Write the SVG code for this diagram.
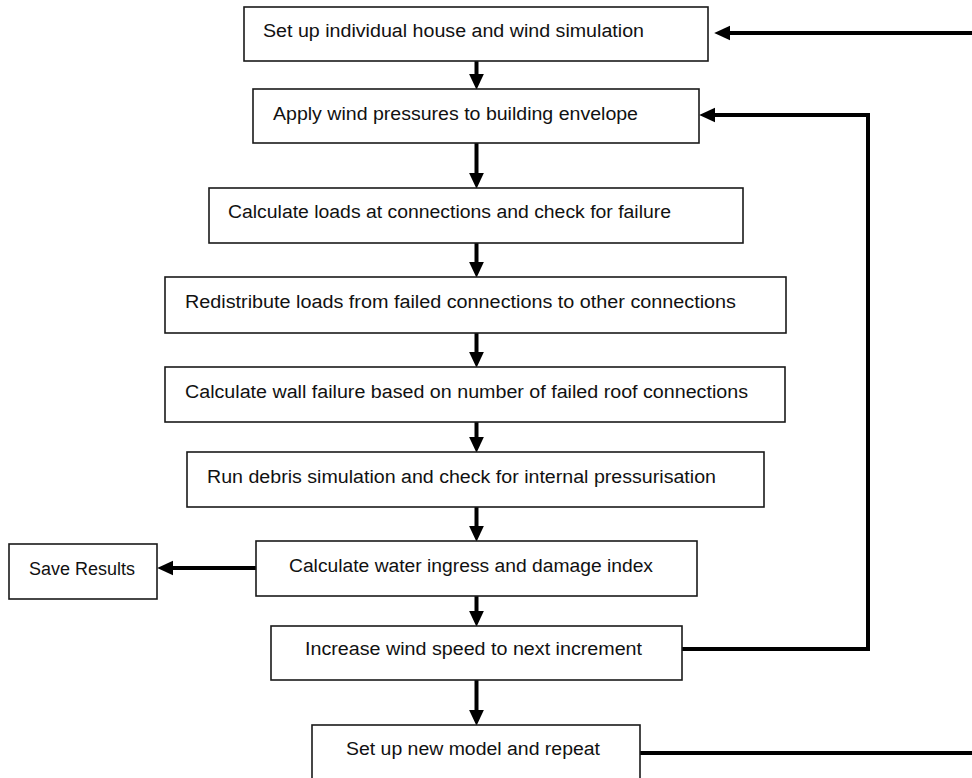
<svg xmlns="http://www.w3.org/2000/svg" width="972" height="778" viewBox="0 0 972 778">
  <style>
    .box { fill: #ffffff; stroke: #1a1a1a; stroke-width: 1.6; }
    .lbl { font-family: "Liberation Sans", Arial, sans-serif; font-size: 18px; fill: #111111; }
    .con { fill: none; stroke: #000000; stroke-width: 4; stroke-linejoin: miter; }
    .arr { marker-end: url(#head); }
  </style>
  <defs>
    <marker id="head" markerUnits="userSpaceOnUse" markerWidth="16" markerHeight="16" viewBox="0 0 15 14" refX="3" refY="7" orient="auto">
      <path d="M0,0 L15,7 L0,14 z" fill="#000000"/>
    </marker>
  </defs>
  <rect width="972" height="778" fill="#ffffff"/>

  <g id="connectors">
    <line class="con arr" x1="476.5" y1="61" x2="476.5" y2="77"/>
    <line class="con arr" x1="476.5" y1="143" x2="476.5" y2="176"/>
    <line class="con arr" x1="476.5" y1="243" x2="476.5" y2="265"/>
    <line class="con arr" x1="476.5" y1="333" x2="476.5" y2="355"/>
    <line class="con arr" x1="476.5" y1="422" x2="476.5" y2="440"/>
    <line class="con arr" x1="476.5" y1="507" x2="476.5" y2="529"/>
    <line class="con arr" x1="476.5" y1="596" x2="476.5" y2="614"/>
    <line class="con arr" x1="476.5" y1="680" x2="476.5" y2="713"/>
    <line class="con arr" x1="256" y1="568" x2="170" y2="568"/>
    <line class="con arr" x1="972" y1="33" x2="727" y2="33"/>
    <polyline class="con arr" points="682,649 868,649 868,115 712,115"/>
    <line class="con" x1="640" y1="753" x2="972" y2="753"/>
  </g>

  <g id="n1">
    <rect class="box" x="244" y="7" width="464" height="54"/>
    <text class="lbl" x="263" y="37" textLength="381" lengthAdjust="spacingAndGlyphs">Set up individual house and wind simulation</text>
  </g>
  <g id="n2">
    <rect class="box" x="253" y="89" width="446" height="54"/>
    <text class="lbl" x="273" y="120" textLength="365" lengthAdjust="spacingAndGlyphs">Apply wind pressures to building envelope</text>
  </g>
  <g id="n3">
    <rect class="box" x="209" y="188" width="534" height="55"/>
    <text class="lbl" x="228" y="218" textLength="443" lengthAdjust="spacingAndGlyphs">Calculate loads at connections and check for failure</text>
  </g>
  <g id="n4">
    <rect class="box" x="165" y="277" width="621" height="56"/>
    <text class="lbl" x="185" y="308" textLength="551" lengthAdjust="spacingAndGlyphs">Redistribute loads from failed connections to other connections</text>
  </g>
  <g id="n5">
    <rect class="box" x="165" y="367" width="620" height="55"/>
    <text class="lbl" x="185" y="398" textLength="563" lengthAdjust="spacingAndGlyphs">Calculate wall failure based on number of failed roof connections</text>
  </g>
  <g id="n6">
    <rect class="box" x="187" y="452" width="577" height="55"/>
    <text class="lbl" x="207" y="483" textLength="509" lengthAdjust="spacingAndGlyphs">Run debris simulation and check for internal pressurisation</text>
  </g>
  <g id="n7">
    <rect class="box" x="256" y="541" width="441" height="55"/>
    <text class="lbl" x="289" y="572" textLength="364" lengthAdjust="spacingAndGlyphs">Calculate water ingress and damage index</text>
  </g>
  <g id="n_save">
    <rect class="box" x="9" y="544" width="148" height="55"/>
    <text class="lbl" x="29" y="575" textLength="106" lengthAdjust="spacingAndGlyphs">Save Results</text>
  </g>
  <g id="n8">
    <rect class="box" x="271" y="626" width="411" height="54"/>
    <text class="lbl" x="305" y="655" textLength="337" lengthAdjust="spacingAndGlyphs">Increase wind speed to next increment</text>
  </g>
  <g id="n9">
    <rect class="box" x="312" y="725" width="328" height="70"/>
    <text class="lbl" x="346" y="755" textLength="254" lengthAdjust="spacingAndGlyphs">Set up new model and repeat</text>
  </g>
</svg>
